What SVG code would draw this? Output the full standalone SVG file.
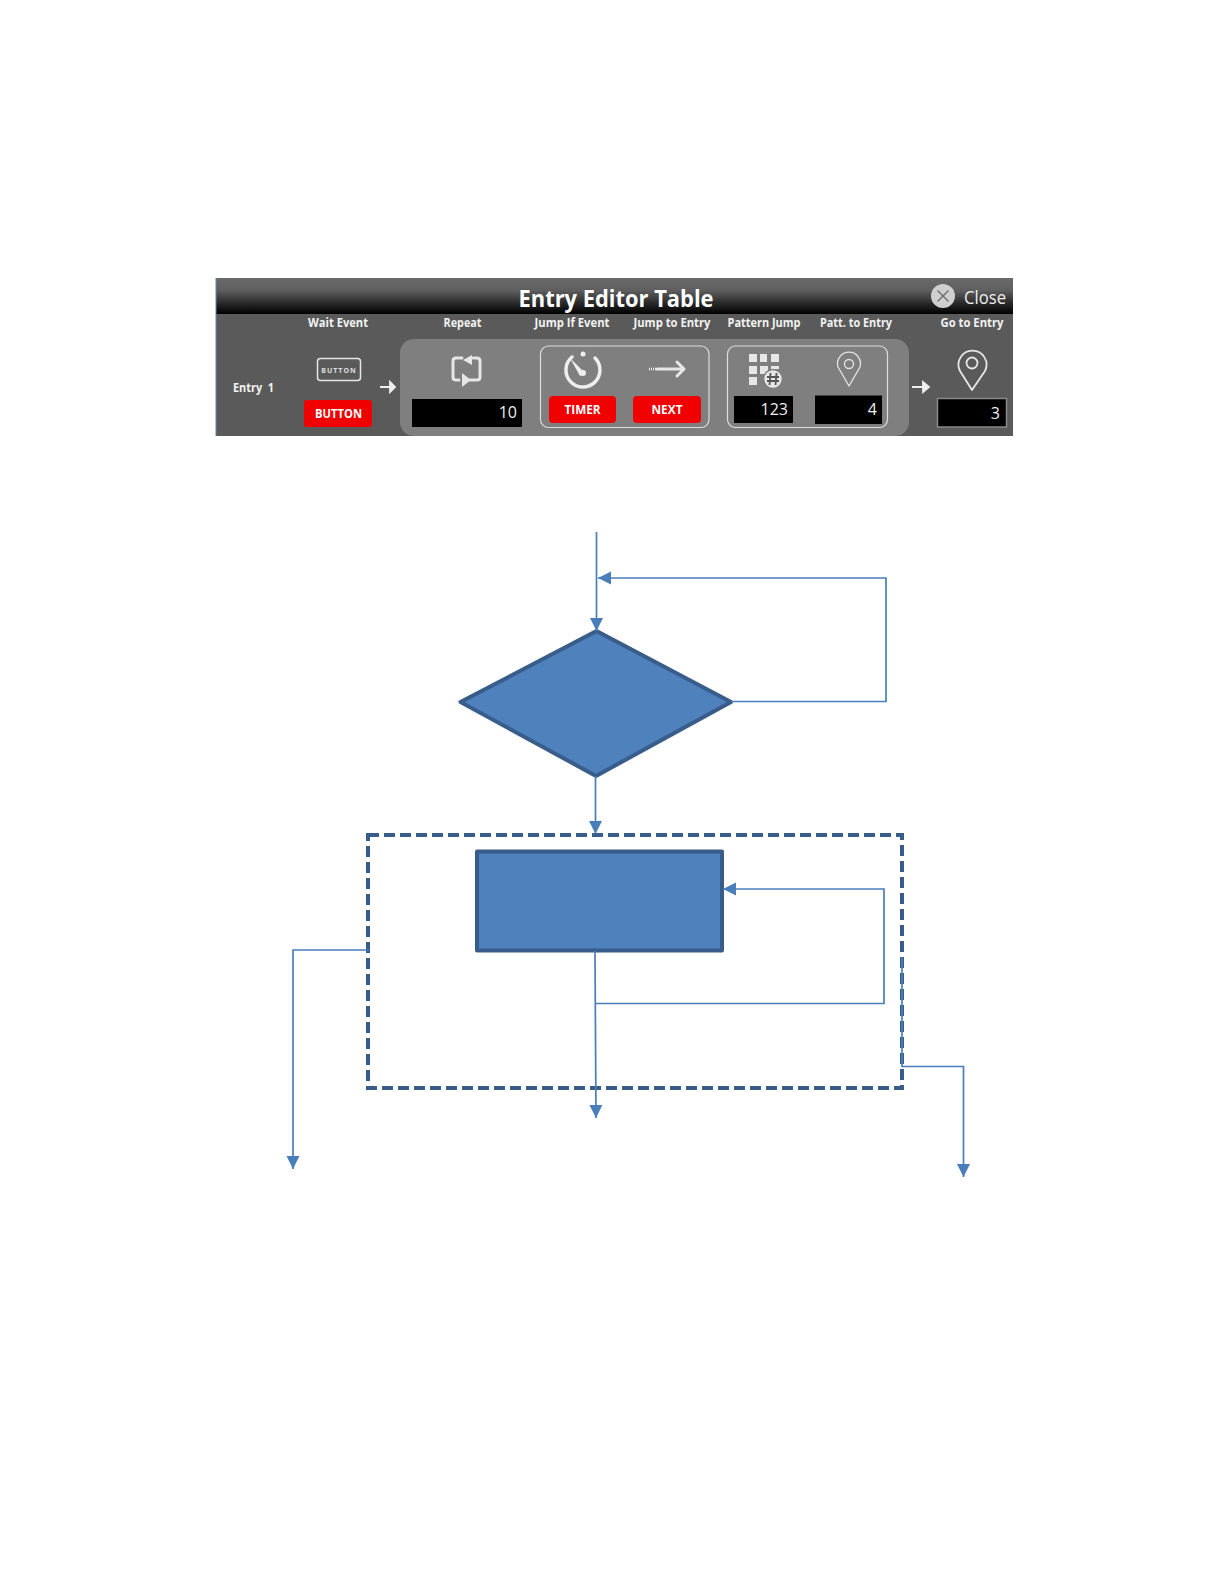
<svg xmlns="http://www.w3.org/2000/svg" width="1224" height="1584" viewBox="0 0 1224 1584">
<style>
.ui{font-family:"Open Sans","Noto Sans","Liberation Sans",sans-serif}
.lab{font-size:12px;font-weight:700;fill:#f2f2f2;text-anchor:middle}
.btn{font-size:12px;font-weight:700;fill:#fff;text-anchor:middle}
.num{font-size:16px;fill:#eee;text-anchor:end}
.red{fill:#f00000}
.blk{fill:#000}
.grp{fill:none;stroke:#ddd;stroke-width:1.2}
.ico{fill:none;stroke:#e6e6e6;stroke-width:3;stroke-linecap:round;stroke-linejoin:round}
.icof{fill:#e6e6e6}
.conn{fill:none;stroke:#4a7ebb;stroke-width:1.7}
.shape{fill:#4f81bd;stroke:#385d8a;stroke-width:4;stroke-linejoin:round}
</style>
<defs>
<linearGradient id="hdr" x1="0" y1="0" x2="0" y2="1"><stop offset="0" stop-color="#6a6a6a"/><stop offset=".35" stop-color="#5e5e5e"/><stop offset=".75" stop-color="#222"/><stop offset="1" stop-color="#000"/></linearGradient>
<marker id="arr" markerUnits="userSpaceOnUse" markerWidth="14" markerHeight="14" refX="13" refY="6.500" orient="auto"><path d="M0 0L13 6.500L0 13Z" fill="#4a7ebb"/></marker>
</defs>
<rect width="1224" height="1584" fill="#fff"/>
<g id="editor-panel">
<rect x="216" y="278" width="797" height="158" fill="#5a5a5a"/>
<rect x="216" y="278" width="797" height="36" fill="url(#hdr)"/>
<line x1="216" y1="278" x2="216" y2="436" stroke="#5a8aa8" stroke-width="1"/>
<text class="ui" x="616" y="307" font-size="23" font-weight="700" fill="#fff" text-anchor="middle" textLength="195" lengthAdjust="spacingAndGlyphs">Entry Editor Table</text>
<circle cx="943" cy="296" r="12" fill="#cfcfcf"/>
<path d="M937.500 290.500L948.500 301.500M948.500 290.500L937.500 301.500" stroke="#666" stroke-width="1.200"/>
<text class="ui" x="985" y="304" font-size="18" fill="#eee" text-anchor="middle" textLength="42" lengthAdjust="spacingAndGlyphs">Close</text>
<text class="ui lab" x="338" y="327" textLength="60" lengthAdjust="spacingAndGlyphs">Wait Event</text>
<text class="ui lab" x="462.500" y="327" textLength="38" lengthAdjust="spacingAndGlyphs">Repeat</text>
<text class="ui lab" x="572" y="327" textLength="75" lengthAdjust="spacingAndGlyphs">Jump If Event</text>
<text class="ui lab" x="672" y="327" textLength="77" lengthAdjust="spacingAndGlyphs">Jump to Entry</text>
<text class="ui lab" x="764" y="327" textLength="73" lengthAdjust="spacingAndGlyphs">Pattern Jump</text>
<text class="ui lab" x="856" y="327" textLength="72" lengthAdjust="spacingAndGlyphs">Patt. to Entry</text>
<text class="ui lab" x="972" y="327" textLength="63" lengthAdjust="spacingAndGlyphs">Go to Entry</text>
<text class="ui" x="233" y="392" font-size="12" font-weight="700" fill="#f2f2f2" xml:space="preserve" textLength="41" lengthAdjust="spacingAndGlyphs">Entry  1</text>
<rect x="317.500" y="358.500" width="43" height="22" rx="3" fill="none" stroke="#e6e6e6" stroke-width="1.500"/>
<text class="ui" x="339" y="372.500" font-size="7" font-weight="700" letter-spacing="1" fill="#ddd" text-anchor="middle">BUTTON</text>
<rect class="red" x="304" y="400" width="68" height="27" rx="3"/>
<text class="ui btn" x="338.500" y="418" textLength="47" lengthAdjust="spacingAndGlyphs">BUTTON</text>
<path d="M380 387H394M390 382L395 387L390 392V382Z" stroke="#eee" stroke-width="1.800" fill="#eee"/>
<rect x="400" y="339" width="509" height="97" rx="14" fill="#7f7f7f"/>
<path class="ico" d="M462 358H456Q453 358 453 361V377Q453 380 456 380H459M473 358H477Q480 358 480 361V377Q480 380 477 380H470"/>
<path class="icof" d="M472 355V365L463 360ZM462 373V387L471 380Z"/>
<rect class="blk" x="412" y="399" width="110" height="28"/>
<text class="ui num" x="517" y="418">10</text>
<rect class="grp" x="540.500" y="346" width="168.500" height="81.500" rx="8"/>
<path d="M572 357A17 17 0 1 0 595 358" fill="none" stroke="#eee" stroke-width="3.500" stroke-linecap="round"/>
<circle cx="583" cy="354" r="2.500" fill="#eee"/>
<path d="M570 358L585 373L580 376Z" fill="#eee"/>
<circle cx="583" cy="373" r="3" fill="#eee"/>
<rect class="red" x="549" y="396" width="67" height="27" rx="4"/>
<text class="ui btn" x="582.500" y="414" textLength="36" lengthAdjust="spacingAndGlyphs">TIMER</text>
<path d="M649 369H656" stroke="#eee" stroke-width="2.500" stroke-dasharray="1 1" fill="none"/>
<path class="ico" d="M657 369H683M677 362L684 369L677 376" stroke-width="2.500"/>
<rect class="red" x="633" y="396" width="68" height="27" rx="4"/>
<text class="ui btn" x="667" y="414" textLength="31" lengthAdjust="spacingAndGlyphs">NEXT</text>
<rect class="grp" x="727.500" y="346" width="160" height="81.500" rx="8"/>
<g class="icof"><rect x="749" y="354" width="8" height="8"/><rect x="760" y="354" width="7" height="8"/><rect x="771" y="354" width="8" height="8"/><rect x="749" y="366" width="8" height="8"/><rect x="760" y="366" width="8" height="8"/><rect x="771" y="366" width="8" height="3"/><rect x="749" y="377" width="8" height="8"/></g>
<circle cx="773" cy="379" r="9.500" fill="#e6e6e6" stroke="#7f7f7f" stroke-width="1.500"/>
<path d="M770.500 373L769.500 385M776.500 373L775.500 385M767 377H779M767 381H779" stroke="#555" stroke-width="1.800"/>
<rect class="blk" x="734" y="396" width="59" height="27"/>
<text class="ui num" x="788" y="415">123</text>
<path d="M849 386L838 367A11.500 11.500 0 1 1 860 367Z" fill="none" stroke="#e6e6e6" stroke-width="1.300" stroke-linejoin="round"/>
<circle cx="849" cy="364" r="4.500" fill="none" stroke="#e6e6e6" stroke-width="1.300"/>
<rect class="blk" x="815" y="395.500" width="67" height="28.500"/>
<text class="ui num" x="877" y="415">4</text>
<path d="M912 387H927M923 382L929 387L923 392V382Z" stroke="#eee" stroke-width="1.800" fill="#eee"/>
<path d="M972 390L960 371A14 14 0 1 1 985 371Z" fill="none" stroke="#e6e6e6" stroke-width="1.800" stroke-linejoin="round"/>
<circle cx="972" cy="363" r="5.500" fill="none" stroke="#e6e6e6" stroke-width="1.800"/>
<rect x="937.500" y="398.500" width="69" height="28.500" fill="#000" stroke="#8a8a8a" stroke-width="1.500"/>
<text class="ui num" x="1000" y="419">3</text>
</g>
<g id="dashed-region"><rect x="368" y="835" width="534" height="253" fill="none" stroke="#385d8a" stroke-width="4" stroke-dasharray="11 5"/></g>
<g id="decision"><path class="shape" d="M596.500 631L731 702L596 776L460.500 702Z"/></g>
<g id="process"><rect class="shape" x="477" y="851.500" width="245" height="99"/></g>
<g id="connectors">
<path class="conn" d="M596.500 532V631" marker-end="url(#arr)"/>
<path class="conn" d="M731 701.500H886V578H598" marker-end="url(#arr)"/>
<path class="conn" d="M595.500 776V834" marker-end="url(#arr)"/>
<path class="conn" d="M595 951L596 1118" marker-end="url(#arr)"/>
<path class="conn" d="M596 1003.500H884V889H723" marker-end="url(#arr)"/>
<path class="conn" d="M369 950H293V1169" marker-end="url(#arr)"/>
<path class="conn" d="M902 957V1066.500H963.500V1177" marker-end="url(#arr)"/>
</g>
</svg>
